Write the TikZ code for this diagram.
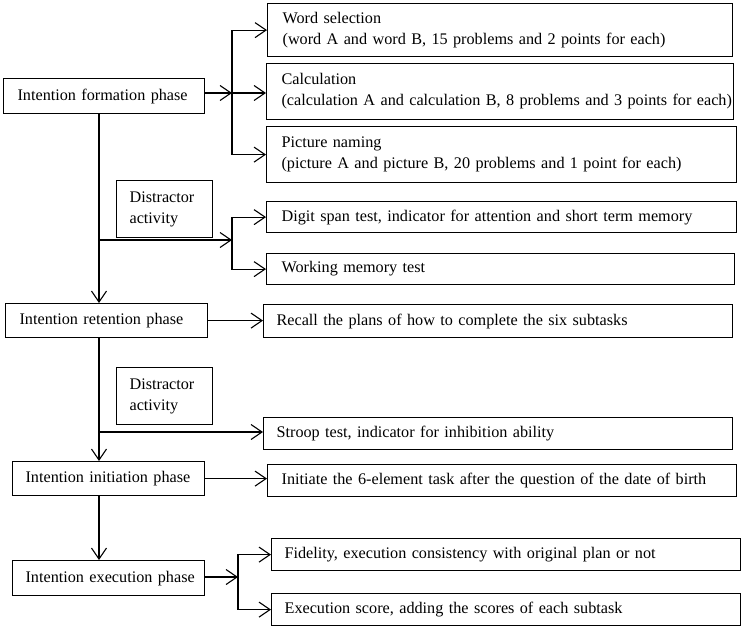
\documentclass[tikz,border=0pt]{standalone}
\usepackage{fontspec}
\setmainfont{Liberation Serif}
\usetikzlibrary{arrows.meta}
\begin{document}
\begin{tikzpicture}[x=1pt,y=-1pt,
  box/.style={draw,line width=1.2pt,inner xsep=0pt,inner ysep=0pt,anchor=north west,align=left,
    font=\fontsize{16.2}{21}\selectfont},
  arr/.style={line width=1.2pt,-{Straight Barb[length=11pt,width=15pt,line width=1.1pt]}}]
\useasboundingbox (0,0) rectangle (743,629);
\node[box,minimum width=201pt,minimum height=35pt,text width=201pt] (form) at (3,78) {\hspace*{14pt}Intention formation phase};
\node[box,minimum width=465pt,minimum height=53pt,text width=465pt] (ws) at (267,3) {\hspace*{15pt}Word selection\\\hspace*{15pt}(word A and word B, 15 problems and 2 points for each)};
\node[box,minimum width=467pt,minimum height=56pt,text width=467pt] (calc) at (266,63) {\hspace*{15pt}Calculation\\\hspace*{15pt}(calculation A and calculation B, 8 problems and 3 points for each)};
\node[box,minimum width=470pt,minimum height=56pt,text width=470pt] (pic) at (266,126) {\hspace*{15pt}Picture naming\\\hspace*{15pt}(picture A and picture B, 20 problems and 1 point for each)};
\node[box,minimum width=96pt,minimum height=57pt,text width=96pt] (da1) at (116,180) {\hspace*{13pt}Distractor\\\hspace*{13pt}activity};
\node[box,minimum width=470pt,minimum height=31pt,text width=470pt] (digit) at (266,201) {\hspace*{15pt}Digit span test, indicator for attention and short term memory};
\node[box,minimum width=468pt,minimum height=31pt,text width=468pt] (wm) at (266,253) {\hspace*{15pt}Working memory test};
\node[box,minimum width=202pt,minimum height=34pt,text width=202pt] (ret) at (5,303) {\hspace*{14pt}Intention retention phase};
\node[box,minimum width=469pt,minimum height=33pt,text width=469pt] (recall) at (263,304) {\hspace*{13pt}Recall the plans of how to complete the six subtasks};
\node[box,minimum width=96pt,minimum height=57pt,text width=96pt] (da2) at (116,367) {\hspace*{13pt}Distractor\\\hspace*{13pt}activity};
\node[box,minimum width=469pt,minimum height=32pt,text width=469pt] (stroop) at (263,417) {\hspace*{13pt}Stroop test, indicator for inhibition ability};
\node[box,minimum width=192pt,minimum height=34pt,text width=192pt] (init) at (12,461) {\hspace*{13pt}Intention initiation phase};
\node[box,minimum width=469pt,minimum height=32pt,text width=469pt] (initb) at (267,464) {\hspace*{14pt}Initiate the 6-element task after the question of the date of birth};
\node[box,minimum width=192pt,minimum height=35pt,text width=192pt] (exec) at (12,560) {\hspace*{13pt}Intention execution phase};
\node[box,minimum width=469pt,minimum height=32pt,text width=469pt] (fid) at (271,538) {\hspace*{13pt}Fidelity, execution consistency with original plan or not};
\node[box,minimum width=469pt,minimum height=32pt,text width=469pt] (score) at (271,593) {\hspace*{13pt}Execution score, adding the scores of each subtask};
% coordinates
\coordinate (m) at (99,0);
\coordinate (j1) at (232,93);
\coordinate (m2) at (99,240);
\coordinate (j2) at (232,240);
\coordinate (m3) at (99,432);
\coordinate (j3) at (238,577);
% connectors
\draw[arr] (form.east |- j1) -- (j1);
\draw[arr] (j1) |- (ws.west);
\draw[arr] (j1) -- (calc.west |- j1);
\draw[arr] (j1) |- (pic.west);
\draw[arr] (form.south -| m) -- (ret.north -| m);
\draw[arr] (m2) -- (j2);
\draw[arr] (j2) |- (digit.west);
\draw[arr] (j2) |- (wm.west);
\draw[arr] (ret.east) -- (recall.west |- ret.east);
\draw[arr] (ret.south -| m) -- (init.north -| m);
\draw[arr] (m3) -- (stroop.west |- m3);
\draw[arr] (init.east) -- (initb.west |- init.east);
\draw[arr] (init.south -| m) -- (exec.north -| m);
\draw[arr] (exec.east |- j3) -- (j3);
\draw[arr] (j3) |- (fid.west);
\draw[arr] (j3) |- (score.west);
\end{tikzpicture}
\end{document}
